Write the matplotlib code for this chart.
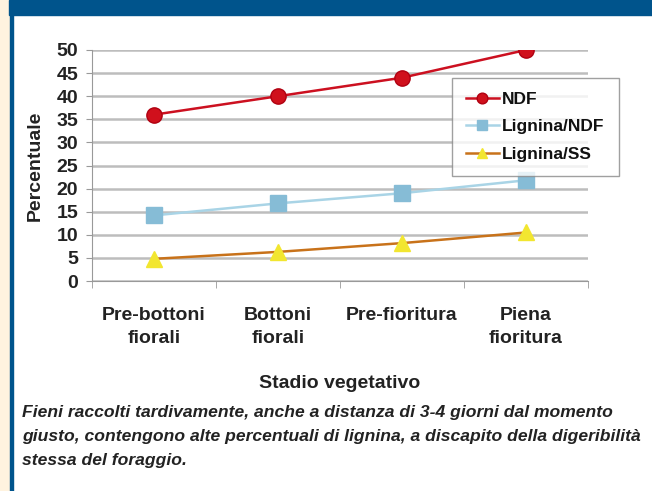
import matplotlib
matplotlib.use("Agg")
import matplotlib.pyplot as plt
from matplotlib.patches import Rectangle

# data
stages = ["Pre-bottoni\nfiorali", "Bottoni\nfiorali", "Pre-fioritura", "Piena\nfioritura"]
ndf = [36, 40, 44, 50]
lignina_ndf = [14.2, 16.8, 19, 21.8]
lignina_ss = [4.8, 6.3, 8.2, 10.5]
yticks = list(range(0, 51, 5))

caption = ("Fieni raccolti tardivamente, anche a distanza di 3-4 giorni dal momento\n"
           "giusto, contengono alte percentuali di lignina, a discapito della digeribilità\n"
           "stessa del foraggio.")

plt.rcParams['font.family'] = ['Liberation Sans', 'DejaVu Sans']

W, H = 652, 491
fig = plt.figure(figsize=(W / 100, H / 100), dpi=100)
fig.patch.set_facecolor('white')

# page decorations: cream margin, blue header band and blue rule
fig.patches.append(Rectangle((0, 0), 9 / W, 1, transform=fig.transFigure,
                             color='#fff3df', zorder=0))
fig.patches.append(Rectangle((9 / W, 1 - 15 / H), 1, 15 / H, transform=fig.transFigure,
                             color='#00548c', zorder=1))
fig.patches.append(Rectangle((10 / W, 0), 2.5 / W, 1, transform=fig.transFigure,
                             color='#00548c', zorder=1))

ax = fig.add_axes([92 / W, 1 - 281 / H, (588 - 92) / W, (281 - 50) / H])
x = list(range(len(stages)))

ax.plot(x, ndf, color='#cc1020', lw=1.8, marker='o', ms=11,
        mfc='#d0101c', mec='#b00010', label='NDF', zorder=4)
ax.plot(x, lignina_ndf, color='#a9d4e6', lw=1.8, marker='s', ms=11,
        mfc='#86bcd6', mec='#86bcd6', label='Lignina/NDF', zorder=4)
ax.plot(x, lignina_ss, color='#c8721a', lw=1.8, marker='^', ms=11,
        mfc='#f2e630', mec='#f2e630', label='Lignina/SS', zorder=4)

ax.set_xlim(-0.5, 3.5)
ax.set_ylim(0, 50)
ax.set_yticks(yticks)
ax.set_yticklabels([str(v) for v in yticks], fontsize=14, fontweight='bold', color='#222222')
ax.yaxis.grid(True, color='#bdbdbd', lw=1.8)
ax.set_axisbelow(True)

ax.set_xticks(x)
ax.set_xticklabels(stages, fontsize=14, fontweight='bold', color='#222222', linespacing=1.45)
ax.tick_params(axis='x', which='major', length=0, pad=19)
ax.set_xticks([-0.5, 0.5, 1.5, 2.5, 3.5], minor=True)
ax.tick_params(axis='x', which='minor', length=5, color='#999999')
ax.tick_params(axis='y', length=4, color='#999999', pad=6)

for s in ['top', 'right']:
    ax.spines[s].set_visible(False)
ax.spines['left'].set_color('#999999')
ax.spines['bottom'].set_color('#999999')
ax.set_facecolor('white')

ax.set_ylabel('Percentuale', fontsize=14, fontweight='bold', color='#222222', labelpad=9)
ax.set_xlabel('Stadio vegetativo', fontsize=14, fontweight='bold', color='#222222', labelpad=20)

leg = ax.legend(loc='upper left', bbox_to_anchor=((452 - 92) / (588 - 92), 1 - (78 - 50) / (281 - 50)),
                borderaxespad=0, frameon=True, fancybox=False, fontsize=12.5, handlelength=1.9,
                borderpad=0.8, labelspacing=0.7, handletextpad=0.2, markerscale=0.7)
leg.get_frame().set_edgecolor('#888888')
leg.get_frame().set_linewidth(1.0)
for t in leg.get_texts():
    t.set_fontweight('bold')
    t.set_color('#111111')

fig.text(22 / W, 1 - 405 / H, caption, fontsize=12.6, style='italic', fontweight='bold',
         color='#222222', va='top', ha='left', linespacing=1.75)

fig.savefig('out.png', dpi=100)
